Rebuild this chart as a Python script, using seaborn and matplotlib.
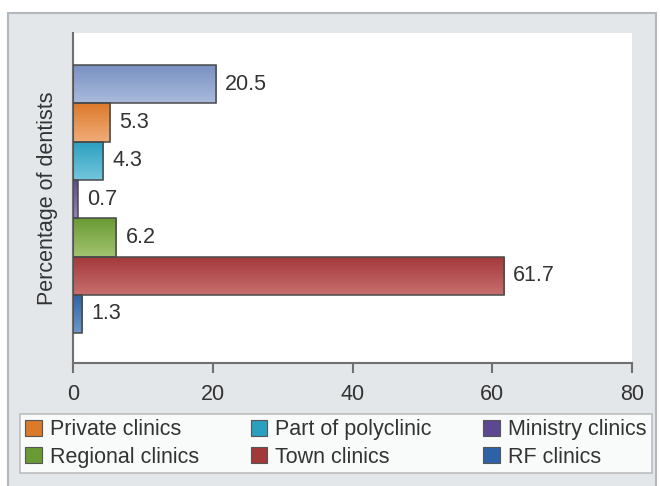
import numpy as np
import pandas as pd
import matplotlib
matplotlib.use("Agg")
import matplotlib.pyplot as plt
from matplotlib.patches import Patch, Rectangle
from matplotlib.colors import to_rgb
import seaborn as sns

# data
categories = ["Dental polyclinics", "Private clinics", "Part of polyclinic",
              "Ministry clinics", "Regional clinics", "Town clinics", "RF clinics"]
values = [20.5, 5.3, 4.3, 0.7, 6.2, 61.7, 1.3]
top_colors = ["#7890c2", "#dc7a2c", "#2a9fc0", "#5c4890", "#6a9a34", "#a2383a", "#2e62a6"]
bottom_colors = ["#a9badc", "#f0ac78", "#74c6dc", "#9282bc", "#a2c470", "#c86e6e", "#6e96cc"]
legend_order = ["Private clinics", "Regional clinics", "Part of polyclinic",
                "Town clinics", "Ministry clinics", "RF clinics"]
x_ticks = [0, 20, 40, 60, 80]

FS = 15.5

sns.set_style("white")
plt.rcParams["font.family"] = ["Liberation Sans", "DejaVu Sans"]
plt.rcParams["text.color"] = "#333333"

df = pd.DataFrame({"category": categories, "value": values})

fig = plt.figure(figsize=(6.6, 4.86), dpi=100)
fig.patch.set_facecolor("white")

# grey panel behind everything
fig.patches.append(Rectangle((8 / 660, -0.01), (656 - 8) / 660, (486 - 13) / 486 + 0.01,
                             transform=fig.transFigure, facecolor="#e3e7ea",
                             edgecolor="#b4b8bc", linewidth=1.5, zorder=-5))

ax = fig.add_axes([73 / 660, 1 - 363 / 486, (632 - 73) / 660, (363 - 33) / 486])
ax.set_facecolor("white")

sns.barplot(data=df, x="value", y="category", hue="category",
            palette=dict(zip(categories, top_colors)), orient="h", width=1.0,
            saturation=1, edgecolor="#4a4a4a", linewidth=1.1, legend=False, ax=ax)

# vertical gradient fill for every bar
t = np.linspace(0, 1, 64)[:, None, None]
for bar, c0, c1 in zip(ax.patches, top_colors, bottom_colors):
    x0, y0 = bar.get_x(), bar.get_y()
    w, h = bar.get_width(), bar.get_height()
    img = (1 - t) * np.array(to_rgb(c0)) + t * np.array(to_rgb(c1))
    im = ax.imshow(img, extent=(x0, x0 + w, y0 + h, y0), origin="upper",
                   aspect="auto", interpolation="bilinear", zorder=2)
    im.set_clip_path(bar)
    bar.set_facecolor("none")
    bar.set_zorder(3)

for i, v in enumerate(values):
    ax.text(v + 1.3, i, f"{v}", va="center", ha="left", fontsize=FS, color="#333333")

ax.set_xlim(0, 80)
ax.set_ylim(7.28, -1.34)
ax.set_xticks(x_ticks)
ax.set_yticks([])
ax.set_xlabel("")
ax.set_ylabel("Percentage of dentists", fontsize=FS, color="#333333", labelpad=11)
ax.tick_params(axis="x", bottom=True, direction="out", length=7, width=1.5,
               color="#707070", labelsize=FS, labelcolor="#333333", pad=8)
for side in ["top", "right"]:
    ax.spines[side].set_visible(False)
for side in ["left", "bottom"]:
    ax.spines[side].set_color("#707070")
    ax.spines[side].set_linewidth(1.5)

color_of = dict(zip(categories, top_colors))
handles = [Patch(facecolor=color_of[c], edgecolor="#555555", linewidth=0.8, label=c)
           for c in legend_order]
leg = fig.legend(handles=handles, loc="lower left", ncol=3, mode="expand",
                 bbox_to_anchor=(20 / 660, 1 - 473 / 486, 632 / 660, 60 / 486),
                 fontsize=FS, frameon=True, fancybox=False, handlelength=0.75,
                 handleheight=0.75, handletextpad=0.4, labelspacing=0.3,
                 borderpad=0.25, borderaxespad=0)
leg.get_frame().set_edgecolor("#b0b0b0")
leg.get_frame().set_linewidth(1.2)
for txt in leg.get_texts():
    txt.set_color("#333333")

fig.savefig("out.png", dpi=100)
